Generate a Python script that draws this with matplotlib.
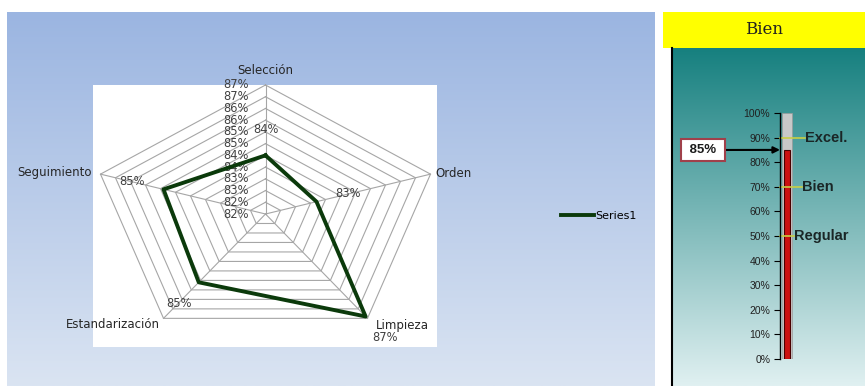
import matplotlib
matplotlib.use("Agg")
import matplotlib.pyplot as plt
import numpy as np
from matplotlib.colors import LinearSegmentedColormap
from matplotlib.patches import Rectangle

# datos del radar
categories = ["Selección", "Orden", "Limpieza", "Estandarización", "Seguimiento"]
values = [0.840, 0.832, 0.869, 0.851, 0.849]
series_name = "Series1"
r_ticks = [0.815, 0.82, 0.825, 0.83, 0.835, 0.84, 0.845, 0.85, 0.855, 0.86, 0.865, 0.87]
r_tick_labels = ["82%", "82%", "83%", "83%", "84%", "84%", "85%", "85%", "86%", "86%", "87%", "87%"]

# datos del termómetro
gauge_title = "Bien"
gauge_value = 0.85
gauge_ticks = [0.0, 0.1, 0.2, 0.3, 0.4, 0.5, 0.6, 0.7, 0.8, 0.9, 1.0]
gauge_tick_labels = ["0%", "10%", "20%", "30%", "40%", "50%", "60%", "70%", "80%", "90%", "100%"]
levels = [0.9, 0.7, 0.5]
level_names = ["Excel.", "Bien", "Regular"]

W, H = 865, 386


def box(x0, y0, x1, y1):
    # pixeles (desde arriba) -> fracciones de figura
    return [x0 / W, 1 - y1 / H, (x1 - x0) / W, (y1 - y0) / H]


def gradient_axes(fig, rect, c_top, c_bottom, zorder=-5):
    a = fig.add_axes(rect, zorder=zorder)
    cmap = LinearSegmentedColormap.from_list("g", [c_top, c_bottom])
    a.imshow(np.linspace(0, 1, 256).reshape(-1, 1), cmap=cmap, aspect="auto",
             extent=(0, 1, 0, 1))
    a.set_xticks([])
    a.set_yticks([])
    for s in a.spines.values():
        s.set_visible(False)
    return a


fig = plt.figure(figsize=(W / 100, H / 100), dpi=100)
fig.patch.set_facecolor("white")

# panel izquierdo
bg = gradient_axes(fig, box(7, 12, 655, 386), "#9bb5e1", "#dae4f2")
bg.add_patch(Rectangle((93 / W, 1 - 347 / H), (437 - 93) / W, (347 - 85) / H,
                       transform=fig.transFigure, facecolor="white",
                       edgecolor="none", clip_on=False))

ax = fig.add_axes(box(92, 85, 439, 343), projection="polar", zorder=1)
ax.set_aspect("auto")
ax.set_theta_zero_location("N")
ax.set_theta_direction(-1)
ax.set_ylim(r_ticks[0], r_ticks[-1])
ax.grid(False)
ax.set_xticks([])
ax.set_yticks([])
ax.spines["polar"].set_visible(False)
ax.patch.set_alpha(0)

n = len(categories)
angles = np.arange(n) * 2 * np.pi / n
closed = np.append(angles, angles[0])

for r in r_ticks[1:]:
    ax.plot(closed, [r] * (n + 1), color="#a6a6a6", lw=0.8, zorder=1, clip_on=False)
for a in angles:
    ax.plot([a, a], [r_ticks[0], r_ticks[-1]], color="#a6a6a6", lw=0.8, zorder=1,
            clip_on=False)

for r, lab in zip(r_ticks, r_tick_labels):
    ax.annotate(lab, xy=(0, r), xytext=(-17, 0), textcoords="offset pixels",
                ha="right", va="center", fontsize=8.3, color="#404040", zorder=3)

ax.plot(closed, np.append(values, values[0]), color="#0b3a0b", lw=2.8,
        label=series_name, zorder=4, clip_on=False)

# etiquetas de categoría
cat_offsets = [(0, 15), (5, 1), (8, -7), (-4, -6), (-9, 2)]
cat_align = ["center", "left", "left", "right", "right"]
for a, cat, off, ha in zip(angles, categories, cat_offsets, cat_align):
    ax.annotate(cat, xy=(a, r_ticks[-1]), xytext=off, textcoords="offset pixels",
                ha=ha, va="center", fontsize=8.5, color="#262626",
                annotation_clip=False)

# etiquetas de datos
for a, v in zip(angles, values):
    ax.annotate(f"{v:.0%}", xy=(a, v), xytext=(25 * 1.34 * np.sin(a), 26 * np.cos(a)),
                textcoords="offset pixels", ha="center", va="center", fontsize=8.3,
                color="#404040", zorder=5)

fig.legend(loc="center left", bbox_to_anchor=(555 / W, 1 - 216 / H), frameon=False,
           handlelength=3.0, handletextpad=0.1, borderpad=0, fontsize=8)

# panel derecho
title_ax = fig.add_axes(box(663, 12, 865, 48), zorder=-5)
title_ax.set_facecolor("#ffff00")
title_ax.set_xticks([])
title_ax.set_yticks([])
for s in title_ax.spines.values():
    s.set_visible(False)
title_ax.text(0.5, 0.5, gauge_title, ha="center", va="center", fontsize=12,
              family="DejaVu Serif", color="#202020")

tp = gradient_axes(fig, box(672, 48, 865, 386), "#16807f", "#e0f0f1")
tp.spines["left"].set_visible(True)
tp.spines["left"].set_color("black")
tp.spines["left"].set_linewidth(1.5)

th = fig.add_axes(box(780, 113, 860, 359), zorder=1)
th.patch.set_alpha(0)
th.set_xlim(0, 1)
th.set_ylim(gauge_ticks[0], gauge_ticks[-1])
for s in ["top", "right", "bottom"]:
    th.spines[s].set_visible(False)
th.spines["left"].set_color("black")
th.spines["left"].set_linewidth(1.0)
th.set_xticks([])
th.set_yticks(gauge_ticks)
th.set_yticklabels(gauge_tick_labels, fontsize=7.5, family="Liberation Sans",
                   color="#202020")
th.tick_params(axis="y", length=4, width=0.8, direction="out", pad=3)

th.bar(0.025, gauge_ticks[-1], width=0.125, align="edge", color="#c8c8c8",
       edgecolor="#9a9a9a", lw=0.5)
th.bar(0.045, gauge_value, width=0.075, align="edge", color="#cc1010",
       edgecolor="#4a0000", lw=0.8)

level_ends = [0.31, 0.27, 0.17]
for lv, name, xe in zip(levels, level_names, level_ends):
    th.plot([0, xe], [lv, lv], color="#c9cf45", lw=1.2, clip_on=False)
    th.text(xe, lv, name, ha="left", va="center", fontsize=10.5, fontweight="bold",
            family="Liberation Sans", color="#1a2626")

th.annotate(f" {gauge_value:.0%} ", xy=(0.0, gauge_value), xytext=(703, H - 150),
            textcoords="figure pixels", ha="center", va="center", fontsize=9.5,
            fontweight="bold", family="Liberation Sans", color="#1a1a1a",
            bbox=dict(boxstyle="square,pad=0.4", fc="white", ec="#a0404a", lw=1.5),
            arrowprops=dict(arrowstyle="-|>", color="black", lw=1.5,
                            shrinkA=0, shrinkB=0),
            annotation_clip=False)

fig.savefig("out.png", dpi=100)
